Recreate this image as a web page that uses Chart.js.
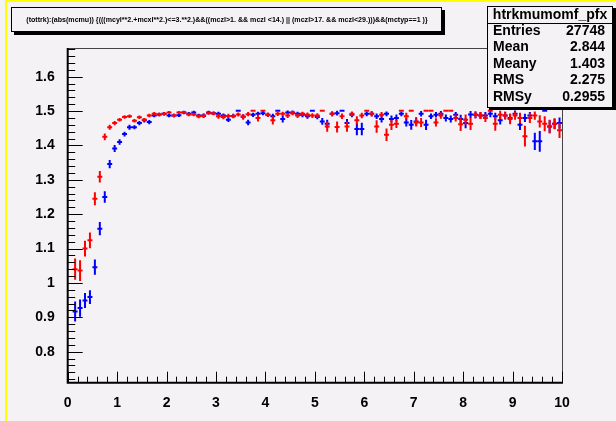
<!DOCTYPE html>
<html>
<head>
<meta charset="utf-8">
<script src="https://cdn.jsdelivr.net/npm/chart.js@4/dist/chart.umd.min.js"></script>
<style>
  html, body { margin: 0; padding: 0; background: #f5f2f5; }
  #wrap { width: 616px; height: 421px; }
</style>
</head>
<body>
<div id="wrap"><canvas id="c" width="616" height="421"></canvas></div>
<script>
// profile bin centres (abs(mcmu))
var binCenters = [0.15,0.25,0.35,0.45,0.55,0.65,0.75,0.85,0.95,
  1.05,1.15,1.25,1.35,1.45,1.55,1.65,1.75,1.85,1.95,
  2.05,2.15,2.25,2.35,2.45,2.55,2.65,2.75,2.85,2.95,
  3.05,3.15,3.25,3.35,3.45,3.55,3.65,3.75,3.85,3.95,
  4.05,4.15,4.25,4.35,4.45,4.55,4.65,4.75,4.85,4.95,
  5.05,5.15,5.25,5.35,5.45,5.55,5.65,5.75,5.85,5.95,
  6.05,6.15,6.25,6.35,6.45,6.55,6.65,6.75,6.85,6.95,
  7.05,7.15,7.25,7.35,7.45,7.55,7.65,7.75,7.85,7.95,
  8.05,8.15,8.25,8.35,8.45,8.55,8.65,8.75,8.85,8.95,
  9.05,9.15,9.25,9.35,9.45,9.55,9.65,9.75,9.85,9.95];

var redMean = [1.040,1.036,1.100,1.124,1.245,1.309,1.425,1.453,1.465,
  1.475,1.483,1.485,1.472,1.482,1.475,1.487,1.492,1.490,1.492,
  1.496,1.487,1.496,1.496,1.490,1.490,1.485,1.486,1.494,1.493,
  1.485,1.483,1.486,1.485,1.490,1.483,1.491,1.501,1.480,1.501,
  1.489,1.473,1.492,1.492,1.487,1.494,1.487,1.492,1.489,1.487,
  1.487,1.501,1.455,1.492,1.454,1.485,1.455,1.492,1.473,1.487,
  1.501,1.492,1.455,1.489,1.431,1.460,1.463,1.501,1.485,1.501,
  1.467,1.467,1.501,1.501,1.467,1.487,1.501,1.501,1.480,1.462,
  1.475,1.463,1.489,1.487,1.480,1.501,1.463,1.489,1.487,1.477,
  1.487,1.480,1.427,1.480,1.487,1.470,1.463,1.455,1.463,1.444];

var redErr = [0.031,0.030,0.023,0.023,0.019,0.017,0.010,0.007,0.006,
  0.005,0.005,0.005,0.005,0.005,0.005,0.005,0.005,0.005,0.005,
  0.004,0.005,0.004,0.004,0.005,0.005,0.006,0.006,0.005,0.005,
  0.007,0.007,0.006,0.006,0.006,0.008,0.006,0,0.010,0,
  0.006,0.012,0.006,0.006,0.007,0.006,0.007,0.006,0.007,0.007,
  0.007,0,0.015,0.007,0.016,0.008,0.015,0.007,0.012,0.008,
  0,0.008,0.018,0.008,0.018,0.015,0.012,0,0.010,0,
  0.012,0.013,0,0,0.012,0.009,0,0,0.010,0.020,
  0.015,0.018,0.010,0.010,0.012,0,0.020,0.012,0.012,0.015,
  0.012,0.015,0.030,0.015,0.012,0.018,0.022,0.020,0.016,0.022];

var blueMean = [0.917,0.927,0.949,0.959,1.046,1.158,1.250,1.346,1.391,
  1.410,1.433,1.453,1.453,1.465,1.473,1.468,1.487,1.490,1.492,
  1.487,1.487,1.488,1.496,1.492,1.496,1.487,1.487,1.496,1.494,
  1.492,1.487,1.475,1.486,1.501,1.484,1.467,1.489,1.492,1.494,
  1.489,1.485,1.501,1.477,1.496,1.496,1.492,1.489,1.485,1.501,
  1.483,1.470,1.463,1.492,1.494,1.501,1.465,1.489,1.448,1.448,
  1.492,1.492,1.485,1.477,1.492,1.477,1.480,1.492,1.467,1.460,
  1.470,1.492,1.460,1.485,1.489,1.492,1.480,1.477,1.489,1.477,
  1.465,1.490,1.489,1.487,1.487,1.492,1.485,1.473,1.487,1.480,
  1.492,1.460,1.480,1.487,1.412,1.412,1.501,1.455,1.463,1.465];

var blueErr = [0.029,0.025,0.022,0.020,0.022,0.019,0.017,0.012,0.010,
  0.008,0.007,0.007,0.006,0.006,0.006,0.006,0.005,0.005,0.005,
  0.005,0.005,0.005,0.005,0.005,0.005,0.005,0.006,0.005,0.005,
  0.006,0.006,0.007,0.006,0,0.007,0.008,0.006,0.006,0.006,
  0.006,0.007,0,0.010,0.006,0.006,0.006,0.007,0.007,0,
  0.007,0.010,0.012,0.007,0.007,0,0.012,0.007,0.018,0.018,
  0.007,0.007,0.008,0.010,0.007,0.010,0.010,0.007,0.012,0.014,
  0.012,0.008,0.015,0.008,0.008,0.008,0.010,0.010,0.008,0.012,
  0.015,0.010,0.010,0.010,0.010,0.010,0.010,0.012,0.010,0.012,
  0.010,0.015,0.012,0.010,0.025,0.030,0,0.018,0.015,0.016];

var xTickValues = [0,1,2,3,4,5,6,7,8,9,10];
var yTickValues = [0.8,0.9,1.0,1.1,1.2,1.3,1.4,1.5,1.6];

var titleText = "(tottrk):(abs(mcmu)) {(((mcyl**2.+mcxl**2.)<=3.**2.)&&((mczl>1. && mczl <14.) || (mczl>17. && mczl<29.)))&&(mctyp==1 )}";
var statsName = "htrkmumomf_pfx";
var statsLabels = ["Entries", "Mean", "Meany", "RMS", "RMSy"];
var statsValues = ["27748", "2.844", "1.403", "2.275", "0.2955"];

var FONT = "'Liberation Sans', Arial, Helvetica, sans-serif";

function points(means)
{
    return binCenters.map(function (x, i) { return {x: x, y: means[i]}; });
}

var rootLook = {
    id: 'rootLook',
    beforeDraw: function (chart) {
        var ctx = chart.ctx;
        ctx.save();
        ctx.fillStyle = '#f5f2f5';
        ctx.fillRect(0, 0, chart.width, chart.height);
        ctx.fillStyle = '#ffff00';
        ctx.fillRect(5, 0, 2, chart.height);
        ctx.fillRect(5, 0, chart.width - 5, 2);
        ctx.restore();
    },
    afterDatasetsDraw: function (chart) {
        var ctx = chart.ctx;
        var xs = chart.scales.x, ys = chart.scales.y;
        var errs = [blueErr, redErr];
        ctx.save();
        chart.data.datasets.forEach(function (ds, d) {
            var meta = chart.getDatasetMeta(d);
            ctx.strokeStyle = ds.borderColor;
            ctx.lineWidth = 2;
            meta.data.forEach(function (pt, i) {
                var v = ds.data[i];
                var e = errs[d][i];
                var x0 = xs.getPixelForValue(v.x - 0.05), x1 = xs.getPixelForValue(v.x + 0.05);
                ctx.beginPath();
                ctx.moveTo(x0, pt.y);
                ctx.lineTo(x1, pt.y);
                if (e > 0) {
                    ctx.moveTo(pt.x, ys.getPixelForValue(v.y + e));
                    ctx.lineTo(pt.x, ys.getPixelForValue(v.y - e));
                }
                ctx.stroke();
            });
        });

        var a = chart.chartArea;
        // frame
        ctx.strokeStyle = '#444';
        ctx.lineWidth = 1;
        ctx.beginPath();
        ctx.moveTo(a.left, a.top + 0.5);
        ctx.lineTo(a.right + 0.5, a.top + 0.5);
        ctx.lineTo(a.right + 0.5, a.bottom);
        ctx.stroke();

        // ticks
        ctx.strokeStyle = '#000';
        ctx.beginPath();
        var v, p;
        for (v = 0; v <= 10.001; v += 0.2) {
            p = Math.round(xs.getPixelForValue(v)) + 0.5;
            var major = Math.abs(v - Math.round(v)) < 0.001;
            ctx.moveTo(p, a.bottom);
            ctx.lineTo(p, a.bottom - (major ? 11 : 6));
        }
        for (v = 0.72; v <= 1.681; v += 0.02) {
            p = Math.round(ys.getPixelForValue(v)) + 0.5;
            var majorY = Math.abs(v * 10 - Math.round(v * 10)) < 0.01;
            ctx.moveTo(a.left, p);
            ctx.lineTo(a.left + (majorY ? 15 : 7.5), p);
        }
        ctx.stroke();

        // axis lines
        ctx.lineWidth = 2;
        ctx.beginPath();
        ctx.moveTo(a.left, a.top);
        ctx.lineTo(a.left, a.bottom);
        ctx.lineTo(a.right + 1, a.bottom);
        ctx.stroke();
        ctx.restore();
    },
    afterDraw: function (chart) {
        var ctx = chart.ctx;
        ctx.save();

        // title pave
        ctx.fillStyle = '#000';
        ctx.fillRect(14, 10, 431, 25);
        ctx.fillStyle = '#f5f2f5';
        ctx.fillRect(11, 7, 431, 25);
        ctx.strokeStyle = '#000';
        ctx.lineWidth = 1;
        ctx.strokeRect(11.5, 7.5, 430, 24);
        ctx.font = 'bold 7px ' + FONT;
        var w = ctx.measureText(titleText).width;
        var size = 7 * 402 / w;
        ctx.font = 'bold ' + size.toFixed(2) + 'px ' + FONT;
        ctx.fillStyle = '#000';
        ctx.textBaseline = 'middle';
        ctx.textAlign = 'center';
        ctx.fillText(titleText, 227, 20);

        // stats box
        ctx.fillStyle = '#000';
        ctx.fillRect(489, 8, 127, 102);
        ctx.fillStyle = '#f5f2f5';
        ctx.fillRect(487, 6, 126, 102);
        ctx.strokeStyle = '#000';
        ctx.strokeRect(487.5, 6.5, 125, 101);
        ctx.beginPath();
        ctx.moveTo(487, 23.5);
        ctx.lineTo(613, 23.5);
        ctx.stroke();
        ctx.fillStyle = '#000';
        ctx.font = 'bold 14px ' + FONT;
        ctx.textAlign = 'center';
        ctx.fillText(statsName, 550, 15);
        var rows = [31, 47.5, 64, 80.5, 97];
        statsLabels.forEach(function (lab, i) {
            ctx.textAlign = 'left';
            ctx.fillText(lab, 493, rows[i]);
            ctx.textAlign = 'right';
            ctx.fillText(statsValues[i], 605, rows[i]);
        });
        ctx.restore();
    }
};

var chart = new Chart(document.getElementById('c'), {
    type: 'scatter',
    data: {
        datasets: [{
            label: 'blue',
            data: points(blueMean),
            borderColor: '#0000ff',
            backgroundColor: '#0000ff',
            pointRadius: 0,
            showLine: false
        }, {
            label: 'red',
            data: points(redMean),
            borderColor: '#ff0000',
            backgroundColor: '#ff0000',
            pointRadius: 0,
            showLine: false
        }]
    },
    options: {
        responsive: false,
        animation: false,
        layout: {padding: {left: 0, top: 48, right: 54, bottom: 0}},
        plugins: {legend: {display: false}, tooltip: {enabled: false}},
        scales: {
            x: {
                type: 'linear',
                min: 0,
                max: 10,
                grid: {display: false},
                border: {display: false},
                afterBuildTicks: function (s) { s.ticks = xTickValues.map(function (v) { return {value: v}; }); },
                afterFit: function (s) { s.height = 38.3; },
                ticks: {
                    color: '#000',
                    padding: 4,
                    maxRotation: 0,
                    autoSkip: false,
                    font: {family: FONT, size: 14, weight: 'bold'},
                    callback: function (v) { return String(v); }
                }
            },
            y: {
                type: 'linear',
                min: 0.7098,
                max: 1.6835,
                grid: {display: false},
                border: {display: false},
                afterBuildTicks: function (s) { s.ticks = yTickValues.map(function (v) { return {value: v}; }); },
                afterFit: function (s) { s.width = 67.7; },
                ticks: {
                    color: '#000',
                    padding: 5,
                    autoSkip: false,
                    font: {family: FONT, size: 14, weight: 'bold'},
                    callback: function (v) { return String(Math.round(v * 10) / 10); }
                }
            }
        }
    },
    plugins: [rootLook]
});
</script>
</body>
</html>
